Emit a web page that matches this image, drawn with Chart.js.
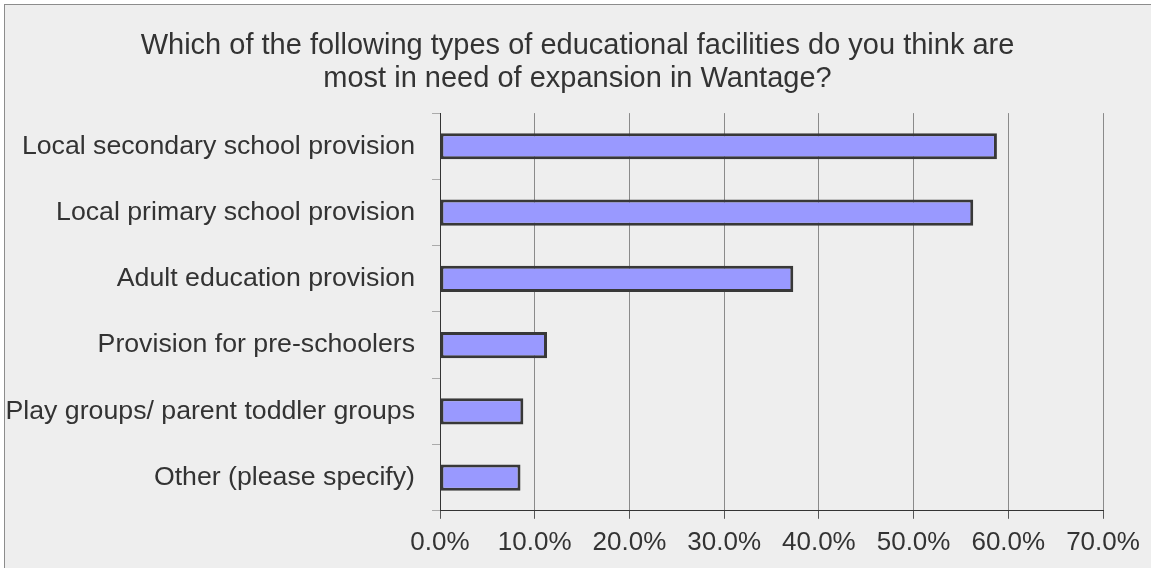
<!DOCTYPE html>
<html>
<head>
<meta charset="utf-8">
<title>Educational facilities in Wantage</title>
<script src="https://cdn.jsdelivr.net/npm/chart.js@4/dist/chart.umd.min.js"></script>
<style>
  html, body { margin: 0; padding: 0; background: #ffffff; overflow: hidden; }
  #frame {
    position: absolute; left: 4px; top: 4px; width: 1160px; height: 580px;
    background: #eeeeee; border-left: 1px solid #8c8c8c; border-top: 1px solid #8c8c8c;
  }
  #chart { position: absolute; left: 0; top: 0; }
</style>
</head>
<body>
<div id="frame"></div>
<canvas id="chart" width="1151" height="568"></canvas>
<script>
// ==========================
// Data
// ==========================
const categories = [
  'Local secondary school provision',
  'Local primary school provision',
  'Adult education provision',
  'Provision for pre-schoolers',
  'Play groups/ parent toddler groups',
  'Other (please specify)'
];
const percentValues = [58.8, 56.3, 37.3, 11.3, 8.8, 8.5];
const axisMax = 70;
const axisStep = 10;
const titleLines = [
  'Which of the following types of educational facilities do you think are',
  'most in need of expansion in Wantage?'
];

const FONT = "'Liberation Sans', Arial, sans-serif";

// Title is centred over the whole picture, not just the area right of the labels
const centreTitle = {
  id: 'centreTitle',
  afterLayout(chart) {
    if (chart.titleBlock) {
      chart.titleBlock.left = 4;
      chart.titleBlock.right = chart.width;
    }
  }
};

// ==========================
// Chart
// ==========================
const ctx = document.getElementById('chart').getContext('2d');
new Chart(ctx, {
  type: 'bar',
  data: {
    labels: categories,
    datasets: [{
      data: percentValues,
      backgroundColor: '#9999ff',
      borderColor: '#383838',
      borderWidth: 3,
      borderSkipped: false,
      categoryPercentage: 1,
      barPercentage: 0.395
    }]
  },
  options: {
    indexAxis: 'y',
    responsive: false,
    animation: false,
    devicePixelRatio: 1,
    layout: { padding: { left: 0, right: 48, top: 0, bottom: 2 } },
    plugins: {
      legend: { display: false },
      tooltip: { enabled: false },
      title: {
        display: true,
        text: titleLines,
        color: '#333333',
        font: { family: FONT, size: 29, weight: 'normal', lineHeight: 1.14 },
        padding: { top: 29, bottom: 18 }
      }
    },
    scales: {
      x: {
        min: 0,
        max: axisMax,
        border: { color: '#333333', width: 1 },
        grid: { color: '#8a8a8a', tickColor: '#555555', tickLength: 8 },
        ticks: {
          stepSize: axisStep,
          color: '#333333',
          padding: 8,
          font: { family: FONT, size: 26 },
          callback: v => v.toFixed(1) + '%'
        }
      },
      y: {
        border: { color: '#333333', width: 1 },
        grid: { drawOnChartArea: false, offset: true, color: '#aaaaaa', tickLength: 8 },
        ticks: {
          color: '#333333',
          padding: 17,
          font: { family: FONT, size: 26.7 }
        },
        afterFit: scale => { scale.width = 440; }
      }
    }
  },
  plugins: [centreTitle]
});
</script>
</body>
</html>
